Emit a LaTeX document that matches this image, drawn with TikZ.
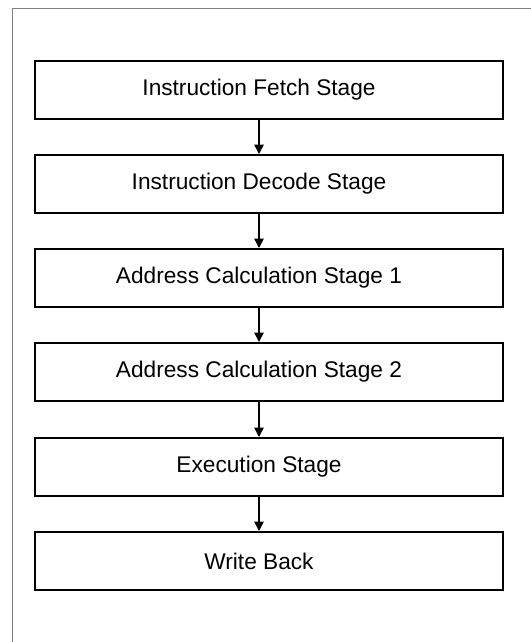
\documentclass[tikz,border=0pt]{standalone}
\usepackage{fontspec}
\setmainfont{Liberation Sans}
\usetikzlibrary{arrows.meta, positioning}

\begin{document}
\begin{tikzpicture}[
    x=0.75pt, y=-0.75pt,
    stage/.style={rectangle, draw, line width=1.5pt, minimum width=351pt, minimum height=43.5pt, inner sep=0pt},
    stagetext/.style={font=\fontsize{17}{20}\selectfont},
    flow/.style={-{Triangle[length=7pt, width=7pt]}, line width=1.1pt}
]
\useasboundingbox (0,0) rectangle (531,642);

% Frame
\draw[gray, line width=0.6pt] (531,8) -- (12,8) -- (12,642);

% Stage 1
\node[stage, label={[stagetext, xshift=-7.5pt]center:Instruction Fetch Stage}] at (269,90) (fetch) {};

% Stage 2
\node[stage, label={[stagetext, xshift=-7.5pt]center:Instruction Decode Stage}] at (269,184) (decode) {};

% Stage 3
\node[stage, label={[stagetext, xshift=-7.5pt]center:Address Calculation Stage 1}] at (269,278) (addr1) {};

% Stage 4
\node[stage, label={[stagetext, xshift=-7.5pt]center:Address Calculation Stage 2}] at (269,372) (addr2) {};

% Stage 5
\node[stage, label={[stagetext, xshift=-7.5pt]center:Execution Stage}] at (269,467) (exec) {};

% Stage 6
\node[stage, label={[stagetext, xshift=-7.5pt]center:Write Back}] at (269,561) (wb) {};

% Arrows
\draw[flow] ([xshift=-7.5pt]fetch.south) -- ([xshift=-7.5pt]decode.north);
\draw[flow] ([xshift=-7.5pt]decode.south) -- ([xshift=-7.5pt]addr1.north);
\draw[flow] ([xshift=-7.5pt]addr1.south) -- ([xshift=-7.5pt]addr2.north);
\draw[flow] ([xshift=-7.5pt]addr2.south) -- ([xshift=-7.5pt]exec.north);
\draw[flow] ([xshift=-7.5pt]exec.south) -- ([xshift=-7.5pt]wb.north);

\end{tikzpicture}
\end{document}
